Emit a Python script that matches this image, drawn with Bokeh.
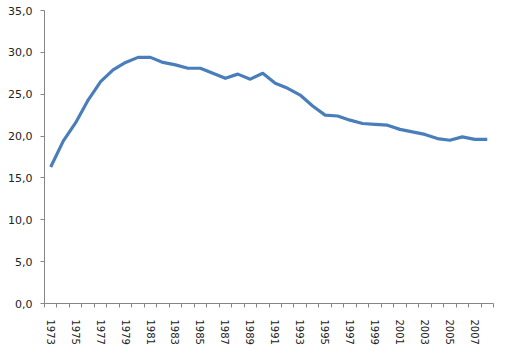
from bokeh.plotting import figure
from bokeh.models import Range1d, FixedTicker, CustomJSTickFormatter, ColumnDataSource
from bokeh.embed import file_html
from bokeh.resources import INLINE

years = list(range(1973, 2009))
values = [16.3, 19.4, 21.6, 24.3, 26.5, 27.9, 28.8, 29.4, 29.4, 28.8,
          28.5, 28.1, 28.1, 27.5, 26.9, 27.4, 26.8, 27.5, 26.3, 25.7,
          24.9, 23.6, 22.5, 22.4, 21.9, 21.5, 21.4, 21.3, 20.8, 20.5,
          20.2, 19.7, 19.5, 19.9, 19.6, 19.6]
label_years = years[::2]
y_ticks = [0, 5, 10, 15, 20, 25, 30, 35]

src = ColumnDataSource(dict(x=years, y=values))

p = figure(width=495, height=347, output_backend="svg", toolbar_location=None,
           x_range=Range1d(years[0] - 0.5, years[-1] + 0.5),
           y_range=Range1d(0, 35),
           min_border_left=44, min_border_right=2, min_border_top=10, min_border_bottom=41)
p.outline_line_color = None
p.xgrid.visible = False
p.ygrid.visible = False
p.background_fill_color = "white"
p.border_fill_color = "white"

p.line("x", "y", source=src, line_color="#4a7ebb", line_width=3.2, line_join="round")

xa = p.xaxis[0]
xa.ticker = FixedTicker(ticks=label_years, minor_ticks=[y - 0.5 for y in years] + [years[-1] + 0.5])
xa.major_tick_out = 0
xa.major_tick_in = 0
xa.minor_tick_out = 4
xa.minor_tick_in = 0
xa.minor_tick_line_color = "#868686"
xa.axis_line_color = "#868686"
xa.major_label_orientation = "vertical"
xa.major_label_standoff = 12
xa.major_label_text_font = "DejaVu Sans"
xa.major_label_text_font_size = "10px"
xa.major_label_text_color = "#222222"

ya = p.yaxis[0]
ya.ticker = FixedTicker(ticks=y_ticks)
ya.formatter = CustomJSTickFormatter(code="return tick.toFixed(1).replace('.', ',');")
ya.major_tick_out = 4
ya.major_tick_in = 0
ya.minor_tick_out = 0
ya.minor_tick_in = 0
ya.major_tick_line_color = "#868686"
ya.axis_line_color = "#868686"
ya.major_label_standoff = 8
ya.major_label_text_font = "DejaVu Sans"
ya.major_label_text_font_size = "11px"
ya.major_label_text_color = "#222222"

open("out.html", "w").write(file_html(p, INLINE))
